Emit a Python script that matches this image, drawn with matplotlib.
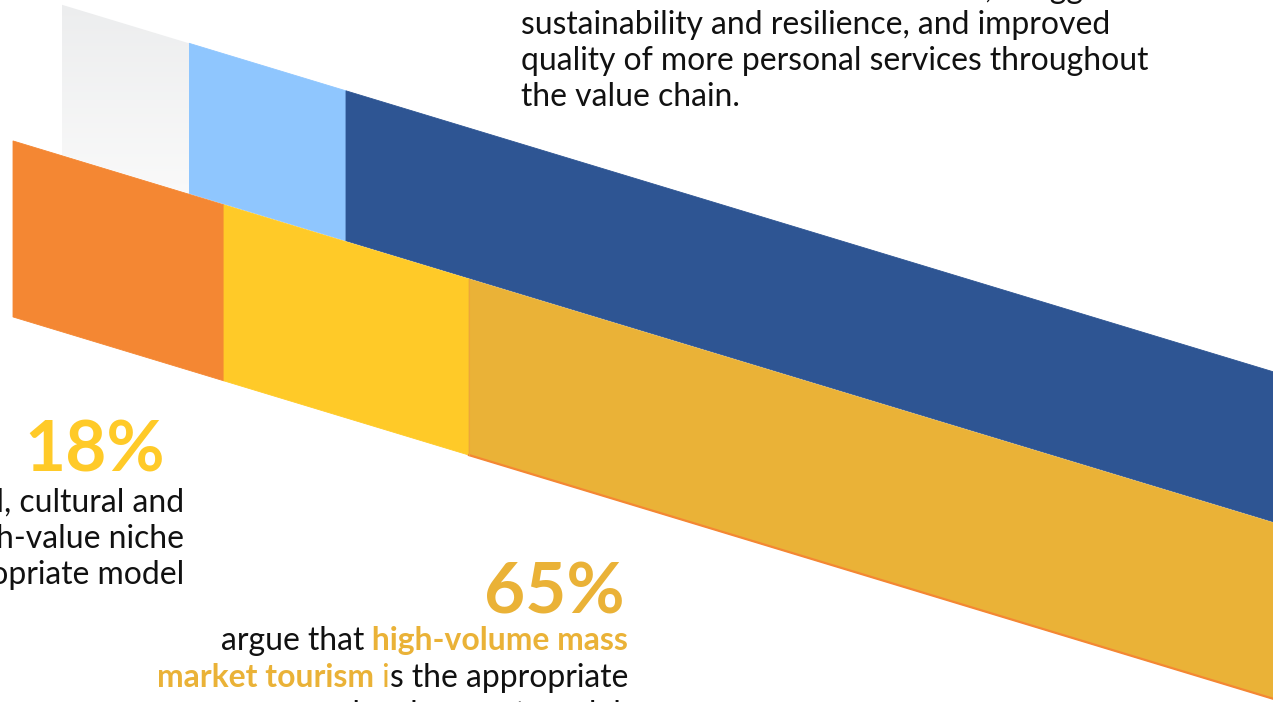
import matplotlib
matplotlib.use("Agg")
import matplotlib.pyplot as plt
from matplotlib.patches import Polygon
from matplotlib.colors import to_rgb
import numpy as np

# canvas in pixels
W, H = 1273, 702

# two slanted bands, each split into segments (widths in canvas units)
top_labels = ["other", "niche share", "mass share"]
top_widths = [127, 157, 960]
top_colors = ["#eeefef", "#8fc6fe", "#2e5593"]

bottom_labels = ["other", "18% niche", "65% mass"]
bottom_widths = [211, 245, 840]
bottom_colors = ["#f48733", "#ffca28", "#eab237"]

# texts
top_text = ["benefits to the local communities, a bigger focus",
            "sustainability and resilience, and improved",
            "quality of more personal services throughout",
            "the value chain."]
left_pct = "18%"
left_text = ["argue that rural, cultural and",
             "high-value niche",
             "tourism is the appropriate model"]
right_pct = "65%"
right_lines = [[("argue that", "#111111", "normal"), (" high-volume mass", "#eab237", "bold")],
               [("market tourism", "#eab237", "bold"), (" i", "#eab237", "normal"),
                ("s the appropriate", "#111111", "normal")],
               [("development model.", "#111111", "normal")]]

SLOPE = 0.303
FONT = "Lato"

fig = plt.figure(figsize=(W / 100, H / 100), dpi=100)
ax = fig.add_axes([0, 0, 1, 1])
ax.set_xlim(0, W)
ax.set_ylim(H, 0)
ax.axis("off")
renderer = fig.canvas.get_renderer()


def band_poly(x0, x1, y0, thick):
    return [(x0, y0 + SLOPE * x0), (x1, y0 + SLOPE * x1),
            (x1, y0 + SLOPE * x1 + thick), (x0, y0 + SLOPE * x0 + thick)]


def draw_band(start, widths, colors, y0, thick):
    edges = start + np.concatenate([[0], np.cumsum(widths)])
    patches = []
    for i, c in enumerate(colors):
        p = Polygon(band_poly(edges[i], edges[i + 1], y0, thick),
                    closed=True, facecolor=c, edgecolor=c, lw=0.6, zorder=2)
        ax.add_patch(p)
        patches.append(p)
    return edges, patches


# top band
top_edges, top_patches = draw_band(62, top_widths, top_colors, -14, 150)

# grey segment gets a soft vertical gradient
top_patches[0].set_facecolor("none")
top_patches[0].set_edgecolor("none")
g0, g1 = np.array(to_rgb("#ecedee")), np.array(to_rgb("#fafafa"))
grad = np.linspace(0, 1, 200)[:, None, None] * (g1 - g0) + g0
im = ax.imshow(grad, extent=(top_edges[0] - 2, top_edges[1] + 2, 200, 0),
               origin="upper", aspect="auto", zorder=2)
im.set_clip_path(top_patches[0])

# bottom band
bot_edges, bot_patches = draw_band(13, bottom_widths, bottom_colors, 137, 176)
# thin orange outline on the lower edge of the gold segment
xs = np.array([bot_edges[2], bot_edges[3]])
ax.plot(xs, 137 + 176 + SLOPE * xs, color="#f48733", lw=1.6, zorder=3)
ax.plot([bot_edges[2]] * 2, [137 + SLOPE * bot_edges[2], 313 + SLOPE * bot_edges[2]],
        color="#eda63a", lw=0.8, zorder=3)

ax.set_xlim(0, W)
ax.set_ylim(H, 0)


def fit_size(s, width, weight="normal"):
    t = ax.text(0, 0, s, fontsize=20, family=FONT, weight=weight)
    w = t.get_window_extent(renderer).width
    t.remove()
    return 20 * width / w


body = fit_size(top_text[2], 629)
pct = fit_size(left_pct, 141, "bold")

# top right paragraph
for i, line in enumerate(top_text):
    ax.text(521, -2 + 36 * i, line, fontsize=body, family=FONT,
            color="#111111", ha="left", va="baseline", zorder=4)

# 18% block
ax.text(165, 472, left_pct, fontsize=pct, family=FONT, weight="bold",
        color="#ffca28", ha="right", va="baseline", zorder=4)
for i, line in enumerate(left_text):
    ax.text(184, 512 + 36 * i, line, fontsize=body, family=FONT,
            color="#111111", ha="right", va="baseline", zorder=4)

# 65% block
ax.text(625, 614, right_pct, fontsize=pct, family=FONT, weight="bold",
        color="#eab237", ha="right", va="baseline", zorder=4)
inv = ax.transData.inverted()
for i, runs in enumerate(right_lines):
    x = 628
    y = 650 + 37 * i
    for s, c, wgt in reversed(runs):
        t = ax.text(x, y, s, fontsize=body, family=FONT, weight=wgt,
                    color=c, ha="right", va="baseline", zorder=4)
        bb = t.get_window_extent(renderer)
        x = inv.transform((bb.x0, bb.y0))[0]

fig.savefig("out.png", dpi=100)
